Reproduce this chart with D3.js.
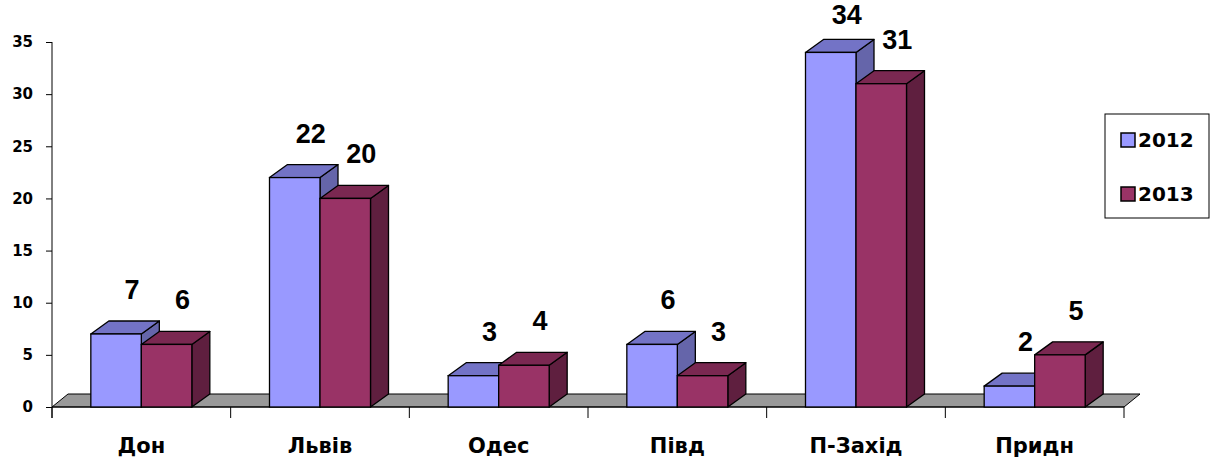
<!DOCTYPE html>
<html>
<head>
<meta charset="utf-8">
<script src="https://cdn.jsdelivr.net/npm/d3@7"></script>
<style>
  body { margin: 0; background: #fff; }
  svg { display: block; }
</style>
</head>
<body>
<div id="chart"></div>
<script>
// data
const categories = ["Дон", "Львів", "Одес", "Півд", "П-Захід", "Придн"];
const series = ["2012", "2013"];
const values2012 = [7, 22, 3, 6, 34, 2];
const values2013 = [6, 20, 4, 3, 31, 5];
const yTicks = [0, 5, 10, 15, 20, 25, 30, 35];

const svgWidth = 1213;
const svgHeight = 459;

const colors = {
  "2012": { front: "#9999ff", top: "#7373c6", side: "#6565aa" },
  "2013": { front: "#993366", top: "#7a2851", side: "#5f1f3f" }
};

// 3d offsets
const depthX = 18, depthY = -13;
const floorDX = 16, floorDY = -13;
const barW = 50.5;

const svg = d3.select("#chart")
  .append("svg")
  .attr("width", svgWidth)
  .attr("height", svgHeight);

const x = d3.scaleBand()
  .domain(categories)
  .range([52, 1124]);

const x1 = d3.scaleBand()
  .domain(series)
  .range([x.bandwidth() / 2 - barW, x.bandwidth() / 2 + barW]);

const y = d3.scaleLinear().domain([0, 35]).range([407, 42]);

// floor
const base = y(0);
svg.append("polygon")
  .attr("points", [
    [x.range()[0], base],
    [x.range()[1], base],
    [x.range()[1] + floorDX, base + floorDY],
    [x.range()[0] + floorDX, base + floorDY]
  ].map(p => p.join(",")).join(" "))
  .attr("fill", "#999999")
  .attr("stroke", "#000")
  .attr("stroke-width", 1);

// y axis
const gy = svg.append("g")
  .attr("transform", "translate(52,0)")
  .call(d3.axisLeft(y).tickValues(yTicks).tickSize(6).tickPadding(13));
gy.select(".domain").remove();
gy.selectAll(".tick line").attr("stroke", "#000");
gy.selectAll("text")
  .attr("font-family", "DejaVu Sans, Verdana, sans-serif")
  .attr("font-size", 15)
  .attr("font-weight", "bold")
  .attr("fill", "#000");
svg.append("line")
  .attr("x1", 52).attr("x2", 52)
  .attr("y1", y(35)).attr("y2", base + 11)
  .attr("stroke", "#000");

// x axis
svg.append("line")
  .attr("x1", x.range()[0]).attr("x2", x.range()[1])
  .attr("y1", base).attr("y2", base)
  .attr("stroke", "#000");
const bounds = categories.map(c => x(c)).concat([x.range()[1]]);
svg.selectAll(".xtick")
  .data(bounds)
  .join("line")
  .attr("class", "xtick")
  .attr("x1", d => d).attr("x2", d => d)
  .attr("y1", base).attr("y2", base + 11)
  .attr("stroke", "#000");

svg.selectAll(".xlabel")
  .data(categories)
  .join("text")
  .attr("class", "xlabel")
  .attr("x", d => x(d) + x.bandwidth() / 2)
  .attr("y", 453)
  .attr("text-anchor", "middle")
  .attr("font-family", "DejaVu Sans, Verdana, sans-serif")
  .attr("font-weight", "bold")
  .attr("font-size", 21)
  .text(d => d);

// bars
const bars = [];
categories.forEach((c, i) => {
  bars.push({ cat: c, s: "2012", v: values2012[i] });
  bars.push({ cat: c, s: "2013", v: values2013[i] });
});

const pts = arr => arr.map(p => p.join(",")).join(" ");

const g = svg.selectAll(".bar")
  .data(bars)
  .join("g")
  .attr("class", "bar");

g.each(function(d) {
  const el = d3.select(this);
  const x0 = x(d.cat) + x1(d.s);
  const xr = x0 + barW;
  const yt = y(d.v);
  // side
  el.append("polygon")
    .attr("points", pts([[xr, yt], [xr + depthX, yt + depthY], [xr + depthX, base + depthY], [xr, base]]))
    .attr("fill", colors[d.s].side)
    .attr("stroke", "#000").attr("stroke-width", 1.3).attr("stroke-linejoin", "round");
  // top
  el.append("polygon")
    .attr("points", pts([[x0, yt], [xr, yt], [xr + depthX, yt + depthY], [x0 + depthX, yt + depthY]]))
    .attr("fill", colors[d.s].top)
    .attr("stroke", "#000").attr("stroke-width", 1.3).attr("stroke-linejoin", "round");
  // front
  el.append("rect")
    .attr("x", x0).attr("y", yt)
    .attr("width", barW).attr("height", base - yt)
    .attr("fill", colors[d.s].front)
    .attr("stroke", "#000").attr("stroke-width", 1.3);
  // value label
  el.append("text")
    .attr("x", x0 + barW / 2 + 16)
    .attr("y", Math.max(yt - 35, 24))
    .attr("text-anchor", "middle")
    .attr("font-family", "Liberation Sans, Arial, sans-serif")
    .attr("font-weight", "bold")
    .attr("font-size", 27)
    .text(d.v);
});

// legend
const legend = svg.append("g");
legend.append("rect")
  .attr("x", 1105).attr("y", 114)
  .attr("width", 104).attr("height", 104)
  .attr("fill", "#fff")
  .attr("stroke", "#000");
const ly = d3.scalePoint().domain(series).range([140, 194]);
legend.selectAll(".sw")
  .data(series)
  .join("rect")
  .attr("x", 1121)
  .attr("y", d => ly(d) - 7)
  .attr("width", 14).attr("height", 14)
  .attr("fill", d => colors[d].front)
  .attr("stroke", "#000")
  .attr("stroke-width", 1.5);
legend.selectAll(".lt")
  .data(series)
  .join("text")
  .attr("x", 1138)
  .attr("y", d => ly(d) + 7)
  .attr("font-family", "DejaVu Sans, Verdana, sans-serif")
  .attr("font-weight", "bold")
  .attr("font-size", 20)
  .text(d => d);
</script>
</body>
</html>
